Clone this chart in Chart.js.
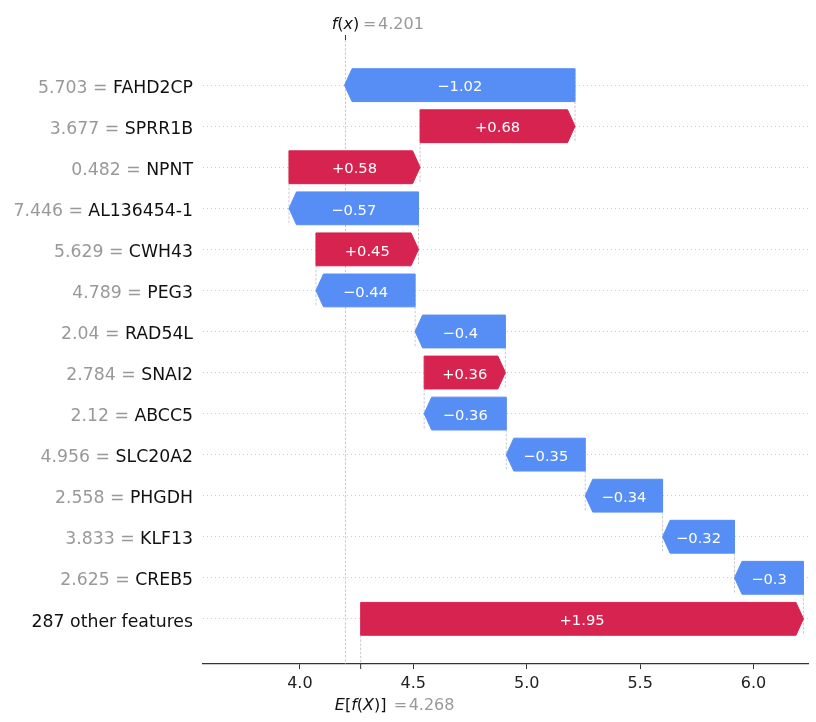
<!DOCTYPE html>
<html>
<head>
<meta charset="utf-8">
<script src="https://cdn.jsdelivr.net/npm/chart.js@4.4.0/dist/chart.umd.min.js"></script>
<style>
html,body{margin:0;padding:0;background:#ffffff;}
#wrap{width:816px;height:722px;position:relative;}
</style>
</head>
<body>
<div id="wrap"><canvas id="c" width="816" height="722"></canvas></div>
<script>
// ---- data ----
const features = ["FAHD2CP","SPRR1B","NPNT","AL136454-1","CWH43","PEG3","RAD54L","SNAI2","ABCC5","SLC20A2","PHGDH","KLF13","CREB5","287 other features"];
const featureValues = ["5.703","3.677","0.482","7.446","5.629","4.789","2.04","2.784","2.12","4.956","2.558","3.833","2.625",""];
const shapValues = [-1.016, 0.683, 0.578, -0.571, 0.452, -0.437, -0.398, 0.358, -0.362, -0.348, -0.341, -0.317, -0.304, 1.952];
const baseValue = 4.268;
const fxValue = 4.201;
const xTickValues = [4.0, 4.5, 5.0, 5.5, 6.0];
const xRange = [3.573, 6.24];

// ---- styles ----
const RED = "#d7234f", BLUE = "#578ef5";
const FONT = "'DejaVu Sans', 'Liberation Sans', sans-serif";
const HEAD = 7.5;

// cumulative waterfall positions (accumulated from the bottom row up)
const n = features.length;
const starts = new Array(n), ends = new Array(n);
let acc = baseValue;
for (let i = n - 1; i >= 0; i--) { starts[i] = acc; acc += shapValues[i]; ends[i] = acc; }
const barData = features.map((f, i) => ({ x: [starts[i], ends[i]], y: i }));
const barColors = shapValues.map(v => v >= 0 ? RED : BLUE);

function fmt(v) {
  let s = Math.abs(v).toFixed(2).replace(/0+$/, '').replace(/\.$/, '');
  return (v < 0 ? '\u2212' : '+') + s;
}

function drawDashedV(ctx, x, y1, y2) {
  ctx.save();
  ctx.strokeStyle = '#bbbbbb';
  ctx.lineWidth = 0.8;
  ctx.setLineDash([2.5, 1.6]);
  ctx.beginPath(); ctx.moveTo(x, y1); ctx.lineTo(x, y2); ctx.stroke();
  ctx.restore();
}

function drawMath(ctx, segs, x, y, align, size, color) {
  let total = 0;
  const w = segs.map(s => { ctx.font = (s.it ? 'italic ' : '') + size + 'px ' + FONT; const m = ctx.measureText(s.t).width; total += m; return m; });
  let cx = align === 'center' ? x - total / 2 : x;
  ctx.fillStyle = color; ctx.textBaseline = 'alphabetic'; ctx.textAlign = 'left';
  segs.forEach((s, i) => { ctx.font = (s.it ? 'italic ' : '') + size + 'px ' + FONT; ctx.fillText(s.t, cx, y); cx += w[i]; });
  return total;
}

const waterfallPlugin = {
  id: 'waterfall',
  beforeDatasetsDraw(chart) {
    const ctx = chart.ctx, xs = chart.scales.x, ys = chart.scales.y, ca = chart.chartArea;
    const half = 0.4 * Math.abs(ys.getPixelForValue(1) - ys.getPixelForValue(0));
    // connectors between consecutive bars
    for (let i = 0; i < n - 1; i++) {
      const x = xs.getPixelForValue(starts[i]);
      drawDashedV(ctx, x, ys.getPixelForValue(i) - half, ys.getPixelForValue(i + 1) + half);
    }
    // E[f(X)] line (bottom row only) and f(x) line (full height)
    drawDashedV(ctx, xs.getPixelForValue(baseValue), ys.getPixelForValue(n - 1), ca.bottom);
    drawDashedV(ctx, xs.getPixelForValue(fxValue), ca.top, ca.bottom);
  },
  beforeDatasetDraw(chart, args) {
    const ctx = chart.ctx, xs = chart.scales.x;
    const ds = chart.data.datasets[args.index];
    ctx.save();
    args.meta.data.forEach((el, i) => {
      const p = el.getProps(['y', 'height'], true);
      const d = ds.data[i];
      const sp = xs.getPixelForValue(d.x[0]);
      const ep = xs.getPixelForValue(d.x[1]);
      const dir = ep >= sp ? 1 : -1;
      const hl = Math.min(Math.abs(ep - sp), HEAD);
      const neck = ep - dir * hl;
      const top = p.y - p.height / 2, bot = p.y + p.height / 2;
      ctx.beginPath();
      ctx.moveTo(sp, top); ctx.lineTo(neck, top); ctx.lineTo(ep, p.y);
      ctx.lineTo(neck, bot); ctx.lineTo(sp, bot); ctx.closePath();
      ctx.fillStyle = ds.backgroundColor[i];
      ctx.fill();
      ctx.strokeStyle = ds.backgroundColor[i];
      ctx.lineWidth = 1;
      ctx.lineJoin = 'miter';
      ctx.stroke();
    });
    ctx.restore();
    return false;
  },
  afterDatasetsDraw(chart) {
    const ctx = chart.ctx, xs = chart.scales.x, ys = chart.scales.y;
    ctx.save();
    ctx.font = '14.7px ' + FONT;
    ctx.fillStyle = '#ffffff';
    ctx.textAlign = 'center';
    ctx.textBaseline = 'alphabetic';
    for (let i = 0; i < n; i++) {
      const cx = (xs.getPixelForValue(starts[i]) + xs.getPixelForValue(ends[i])) / 2;
      ctx.fillText(fmt(shapValues[i]), cx, ys.getPixelForValue(i) + 6.2);
    }
    ctx.restore();
  },
  afterDraw(chart) {
    const ctx = chart.ctx, xs = chart.scales.x, ys = chart.scales.y, ca = chart.chartArea;
    ctx.save();
    // y labels: gray value + black feature name
    const right = ca.left - 10;
    for (let i = 0; i < n; i++) {
      const y = ys.getPixelForValue(i) + 7.7;
      ctx.font = '17.3px ' + FONT;
      ctx.textAlign = 'right'; ctx.textBaseline = 'alphabetic';
      ctx.fillStyle = '#111111';
      const name = featureValues[i] === '' ? features[i] : ' ' + features[i];
      ctx.fillText(name, right, y);
      if (featureValues[i] !== '') {
        const w = ctx.measureText(name).width;
        ctx.fillStyle = '#999999';
        ctx.fillText(featureValues[i] + ' =', right - w, y);
      }
    }
    // tick marks for E[f(X)] (bottom) and f(x) (top)
    const ex = xs.getPixelForValue(baseValue), fx = xs.getPixelForValue(fxValue);
    ctx.strokeStyle = '#333333'; ctx.lineWidth = 1;
    ctx.beginPath(); ctx.moveTo(ex, ca.bottom); ctx.lineTo(ex, ca.bottom + 5); ctx.stroke();
    ctx.beginPath(); ctx.moveTo(fx, ca.top); ctx.lineTo(fx, ca.top - 5); ctx.stroke();
    // f(x) label
    drawMath(ctx, [{t:'f',it:true},{t:'(',it:false},{t:'x',it:true},{t:')',it:false}], fx, 29, 'center', 16, '#111111');
    ctx.font = '16px ' + FONT;
    ctx.fillStyle = '#999999'; ctx.textAlign = 'left';
    ctx.fillText('=', fx + 17.5, 29);
    ctx.fillText(fxValue.toFixed(3), fx + 32.6, 29);
    // E[f(X)] label
    drawMath(ctx, [{t:'E',it:true},{t:'[',it:false},{t:'f',it:true},{t:'(',it:false},{t:'X',it:true},{t:')',it:false},{t:']',it:false}], ex, 709.5, 'center', 16, '#111111');
    ctx.font = '16px ' + FONT;
    ctx.fillStyle = '#999999'; ctx.textAlign = 'left';
    ctx.fillText('=', ex + 33, 709.5);
    ctx.fillText(baseValue.toFixed(3), ex + 48, 709.5);
    ctx.restore();
  }
};

new Chart(document.getElementById('c'), {
  type: 'bar',
  data: {
    datasets: [{
      label: 'SHAP value',
      data: barData,
      backgroundColor: barColors,
      borderWidth: 0,
      categoryPercentage: 1.0,
      barPercentage: 0.8
    }]
  },
  options: {
    indexAxis: 'y',
    responsive: false,
    animation: false,
    devicePixelRatio: 1,
    layout: { padding: { left: 203, right: 8, top: 40, bottom: 0 } },
    plugins: { legend: { display: false }, tooltip: { enabled: false }, title: { display: false } },
    scales: {
      x: {
        type: 'linear',
        position: 'bottom',
        min: xRange[0],
        max: xRange[1],
        offset: false,
        afterBuildTicks: s => { s.ticks = xTickValues.map(v => ({ value: v })); },
        afterFit: s => { s.height = 58; },
        ticks: {
          autoSkip: false, maxRotation: 0, padding: 5,
          color: '#222222',
          font: { family: FONT, size: 16 },
          callback: v => Number(v).toFixed(1)
        },
        grid: { drawOnChartArea: false, drawTicks: true, tickLength: 5, color: '#333333', lineWidth: 1, offset: false },
        border: { display: true, color: '#333333', width: 1.3 }
      },
      y: {
        type: 'linear',
        position: 'left',
        reverse: true,
        offset: false,
        min: -1.1,
        max: n - 1 + 1.1,
        afterBuildTicks: s => { s.ticks = features.map((f, i) => ({ value: i })); },
        afterFit: s => { s.width = 0; },
        ticks: { display: false },
        grid: { drawTicks: false, color: '#cccccc', lineWidth: 1, offset: false },
        border: { display: false, dash: [1, 3] }
      }
    }
  },
  plugins: [waterfallPlugin]
});
</script>
</body>
</html>
